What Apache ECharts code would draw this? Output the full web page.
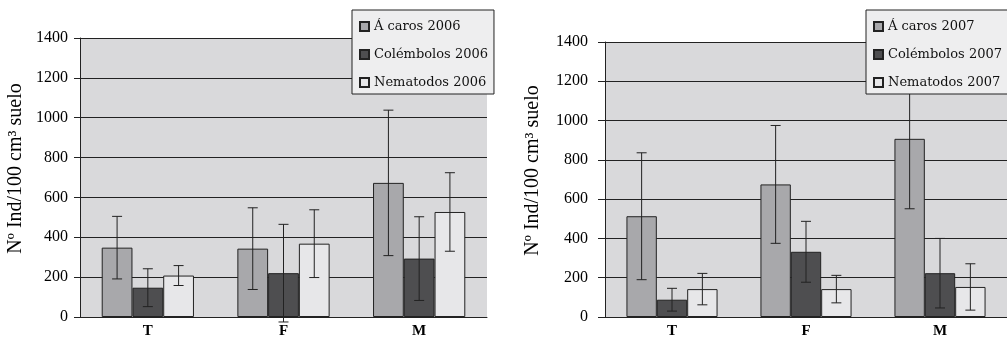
<!DOCTYPE html>
<html lang="es">
<head>
    <meta charset="UTF-8">
    <title>Ácaros, colémbolos y nematodos</title>
    <script src="https://cdn.jsdelivr.net/npm/echarts@6/dist/echarts.min.js"></script>
</head>
<body style="margin:0">
    <div id="graph" style="width: 1007px; height: 339px;"></div>

    <script>
        var categories = ['T', 'F', 'M'];

        // 2006
        var acaros2006 = [348, 343, 673];
        var acaros2006Err = [157, 205, 365];
        var colembolos2006 = [147, 220, 293];
        var colembolos2006Err = [95, 245, 210];
        var nematodos2006 = [208, 368, 527];
        var nematodos2006Err = [50, 170, 197];

        // 2007
        var acaros2007 = [513, 675, 907];
        var acaros2007Err = [323, 300, 356];
        var colembolos2007 = [88, 332, 223];
        var colembolos2007Err = [58, 155, 177];
        var nematodos2007 = [142, 142, 153];
        var nematodos2007Err = [80, 70, 118];

        var GAP = 0.32;
        var serif = '"Liberation Serif", "Times New Roman", serif';
        var colors = ['#a8a8ab', '#4e4e50', '#e7e7e9'];

        function errData(means, errs, k) {
            var out = [];
            for (var i = 0; i < means.length; i++) out.push([i, means[i], errs[i], k]);
            return out;
        }

        function renderErr(params, api) {
            var c = api.value(0), m = api.value(1), e = api.value(2), k = api.value(3);
            var catW = api.size([1, 0])[0];
            var bw = catW * (1 - GAP) / 3;
            var x = api.coord([c, 0])[0] + (k - 1) * bw;
            var yHi = api.coord([c, m + e])[1];
            var yLo = api.coord([c, m - e])[1];
            var st = {stroke: '#222', lineWidth: 1};
            return {
                type: 'group',
                children: [
                    {type: 'line', shape: {x1: x, y1: yHi, x2: x, y2: yLo}, style: st},
                    {type: 'line', shape: {x1: x - 5, y1: yHi, x2: x + 5, y2: yHi}, style: st},
                    {type: 'line', shape: {x1: x - 5, y1: yLo, x2: x + 5, y2: yLo}, style: st}
                ]
            };
        }

        function yAxis(idx, tick, margin, gap) {
            return {
                type: 'value', gridIndex: idx, min: 0, max: 1400, interval: 200,
                name: 'Nº Ind/100 cm³ suelo', nameLocation: 'middle', nameGap: gap,
                nameTextStyle: {fontFamily: serif, fontSize: 20, color: '#000', padding: [0, 0, 0, 18]},
                axisLine: {show: true, lineStyle: {color: '#222'}},
                axisTick: {show: true, length: tick, lineStyle: {color: '#222'}},
                axisLabel: {fontFamily: serif, fontSize: 16, color: '#000', margin: margin,
                    formatter: function (v) { return String(v); }},
                splitLine: {lineStyle: {color: '#222', width: 1}}
            };
        }

        function xAxis(idx) {
            return {
                type: 'category', gridIndex: idx, data: categories,
                axisLine: {lineStyle: {color: '#222'}},
                axisTick: {length: 5, lineStyle: {color: '#222'}},
                axisLabel: {fontFamily: serif, fontSize: 15, fontWeight: 'bold', color: '#000', margin: 7}
            };
        }

        function bar(name, data, k, idx) {
            return {
                name: name, type: 'bar', data: data, xAxisIndex: idx, yAxisIndex: idx,
                barCategoryGap: (GAP * 100) + '%', barGap: '0%',
                itemStyle: {color: colors[k], borderColor: '#222', borderWidth: 1},
                z: 3
            };
        }

        function errs(data, idx) {
            return {
                type: 'custom', xAxisIndex: idx, yAxisIndex: idx, data: data,
                renderItem: renderErr, clip: false, z: 4, silent: true
            };
        }

        function legend(names, left) {
            return {
                data: names, orient: 'vertical', left: left, top: 10,
                backgroundColor: '#eeeeef', borderColor: '#222', borderWidth: 1,
                padding: [10, 6, 5, 7], itemGap: 15, itemWidth: 9, itemHeight: 9,
                icon: 'rect',
                textStyle: {fontFamily: '"DejaVu Serif", serif', fontSize: 13, color: '#111'},
                z: 10
            };
        }

        var names06 = ['Á caros 2006', 'Colémbolos 2006', 'Nematodos 2006'];
        var names07 = ['Á caros 2007', 'Colémbolos 2007', 'Nematodos 2007'];

        var myChart = echarts.init(document.getElementById('graph'));
        var option = {
            animation: false,
            backgroundColor: '#ffffff',
            grid: [
                {left: 80, right: 520, top: 38, bottom: 21, show: true, backgroundColor: '#d9d9db', borderWidth: 0},
                {left: 605, right: 0, top: 42, bottom: 20, show: true, backgroundColor: '#d9d9db', borderWidth: 0}
            ],
            legend: [legend(names06, 352), legend(names07, 866)],
            xAxis: [xAxis(0), xAxis(1)],
            yAxis: [yAxis(0, 6, 12, 54), yAxis(1, 7, 17, 62)],
            series: [
                bar(names06[0], acaros2006, 0, 0),
                bar(names06[1], colembolos2006, 1, 0),
                bar(names06[2], nematodos2006, 2, 0),
                bar(names07[0], acaros2007, 0, 1),
                bar(names07[1], colembolos2007, 1, 1),
                bar(names07[2], nematodos2007, 2, 1),
                errs(errData(acaros2006, acaros2006Err, 0).concat(
                     errData(colembolos2006, colembolos2006Err, 1),
                     errData(nematodos2006, nematodos2006Err, 2)), 0),
                errs(errData(acaros2007, acaros2007Err, 0).concat(
                     errData(colembolos2007, colembolos2007Err, 1),
                     errData(nematodos2007, nematodos2007Err, 2)), 1)
            ]
        };
        myChart.setOption(option);
    </script>
</body>
</html>
